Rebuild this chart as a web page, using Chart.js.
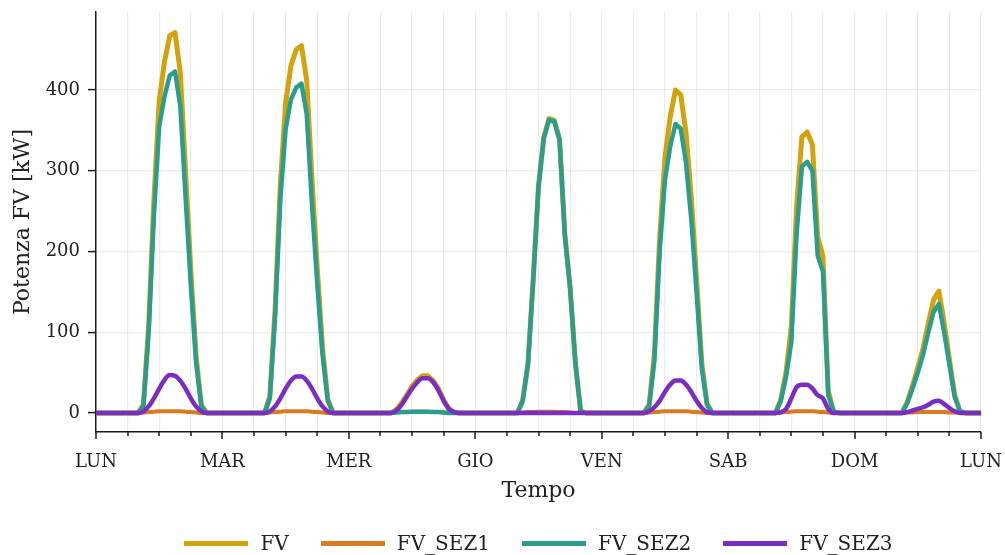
<!DOCTYPE html>
<html lang="it">
<head>
<meta charset="utf-8">
<title>Potenza FV</title>
<script src="https://cdn.jsdelivr.net/npm/chart.js@4.4.1/dist/chart.umd.min.js"></script>
<style>
  html, body { margin: 0; padding: 0; background: #fff; }
  #wrap { position: relative; width: 1005px; height: 555px; }
  #grafico { position: absolute; left: 0; top: 0; }
  #legenda {
    position: absolute; left: 96px; width: 885px; top: 530px; height: 26px;
    display: flex; justify-content: center; align-items: center;
    font-family: 'DejaVu Serif', serif; font-size: 20px; color: #222;
  }
  .voce { display: flex; align-items: center; margin: 0 16px; white-space: nowrap; }
  .voce .linea { display: inline-block; width: 64px; height: 5px; margin-right: 12px; }
</style>
</head>
<body>
<div id="wrap">
  <canvas id="grafico" width="1005" height="555"></canvas>
  <div id="legenda"></div>
</div>
<script>
// giorni della settimana sull'asse x (una tacca principale ogni 24 ore)
const giorni = ['LUN', 'MAR', 'MER', 'GIO', 'VEN', 'SAB', 'DOM', 'LUN'];
const tickY = [0, 100, 200, 300, 400];

// potenze orarie [kW], una riga per giorno (ore 0..23), ultimo punto = lunedi successivo ore 0
const FV = [
  0,0,0,0,0,0,0,0, 0,10.5,109,264.5,387,435,467,471,422,299.5,177,70.5,10, 0,0,0,
  0,0,0,0,0,0,0,0, 0,20.5,129,284.5,384,430,450,455,412,289.5,179,80.5,17, 0,0,0,
  0,0,0,0,0,0,0,0, 0,4,12,22,33,41,46,46,40,30,16,5,1, 0,0,0,
  0,0,0,0,0,0,0,0, 0,15.5,61,166,281.5,341.5,364.5,362.5,339,221,155.5,62,2, 0,0,0,
  0,0,0,0,0,0,0,0, 0,10.5,73,216.5,316,367,400,394,347,267.5,166,61.5,11, 0,0,0,
  0,0,0,0,0,0,0,0, 0,0,16.5,51,107.5,256,342,348,332,218.5,194,27.5,2, 0,0,0,
  0,0,0,0,0,0,0,0, 0,0,13.5,33.5,56,80,111,140,151,112,66.5,22.5,2, 0,0,0,
  0
];
const FV_SEZ1 = [
  0,0,0,0,0,0,0,0, 0,0.5,1,1.5,2,2,2,2,2,1.5,1,0.5,0, 0,0,0,
  0,0,0,0,0,0,0,0, 0,0.5,1,1.5,2,2,2,2,2,1.5,1,0.5,0, 0,0,0,
  0,0,0,0,0,0,0,0, 0,0.5,1,1,1.5,1.5,1.5,1.5,1,1,0.5,0,0, 0,0,0,
  0,0,0,0,0,0,0,0, 0,0.5,1,1,1.5,1.5,1.5,1.5,1,1,0.5,0,0, 0,0,0,
  0,0,0,0,0,0,0,0, 0,0.5,1,1.5,2,2,2,2,2,1.5,1,0.5,0, 0,0,0,
  0,0,0,0,0,0,0,0, 0,0,0.5,1,1.5,2,2,2,2,1.5,1,0.5,0, 0,0,0,
  0,0,0,0,0,0,0,0, 0,0,0.5,0.5,1,1,1,1,1,1,0.5,0.5,0, 0,0,0,
  0
];
const FV_SEZ2 = [
  0,0,0,0,0,0,0,0, 0,8,100,245,355,392,418,423,380,268,158,62,8, 0,0,0,
  0,0,0,0,0,0,0,0, 0,18,120,265,352,388,403,408,370,258,160,72,15, 0,0,0,
  0,0,0,0,0,0,0,0, 0,0.5,1,1,1.5,1.5,1.5,1.5,1,1,0.5,0,0, 0,0,0,
  0,0,0,0,0,0,0,0, 0,15,60,165,280,340,363,361,338,220,155,62,2, 0,0,0,
  0,0,0,0,0,0,0,0, 0,8,65,200,288,330,358,352,310,240,150,55,10, 0,0,0,
  0,0,0,0,0,0,0,0, 0,0,15,45,88,222,305,311,300,195,175,22,2, 0,0,0,
  0,0,0,0,0,0,0,0, 0,0,12,30,50,72,100,125,135,100,60,20,2, 0,0,0,
  0
];
const FV_SEZ3 = [
  0,0,0,0,0,0,0,0, 0,2,8,18,30,41,47,46,40,30,18,8,2, 0,0,0,
  0,0,0,0,0,0,0,0, 0,2,8,18,30,40,45,45,40,30,18,8,2, 0,0,0,
  0,0,0,0,0,0,0,0, 0,3,10,20,30,38,43,43,38,28,15,5,1, 0,0,0,
  0,0,0,0,0,0,0,0, 0,0,0,0,0,0,0,0,0,0,0,0,0, 0,0,0,
  0,0,0,0,0,0,0,0, 0,2,7,15,26,35,40,40,35,26,15,6,1, 0,0,0,
  0,0,0,0,0,0,0,0, 0,0,1,5,18,32,35,35,30,22,18,5,0, 0,0,0,
  0,0,0,0,0,0,0,0, 0,0,1,3,5,7,10,14,15,11,6,2,0, 0,0,0,
  0
];

const ore = FV.map((_, i) => i);
const FONT = "'DejaVu Serif', serif";
const GRIGLIA = 'rgba(0, 0, 0, 0.075)';
const ASSE = '#1a1a1a';

// tacche dell'asse x: lunghe ogni giorno, corte ogni 6 ore
const tacche = {
  id: 'tacche',
  afterDraw(chart) {
    const { ctx, chartArea, scales: { x } } = chart;
    ctx.save();
    ctx.strokeStyle = ASSE;
    ctx.lineWidth = 1.5;
    for (let h = 0; h <= 168; h += 6) {
      const px = Math.round(x.getPixelForValue(h));
      const lung = h % 24 === 0 ? 7 : 4;
      ctx.beginPath();
      ctx.moveTo(px, chartArea.bottom);
      ctx.lineTo(px, chartArea.bottom + lung);
      ctx.stroke();
    }
    ctx.restore();
  }
};

function serie(label, dati, colore, spessore, ordine, morbida) {
  return {
    label: label,
    data: dati,
    borderColor: colore,
    backgroundColor: colore,
    borderWidth: spessore,
    borderJoinStyle: 'round',
    borderCapStyle: 'round',
    pointRadius: 0,
    fill: false,
    order: ordine,
    cubicInterpolationMode: morbida ? 'monotone' : 'default',
    tension: 0
  };
}

const ctx = document.getElementById('grafico').getContext('2d');

const grafico = new Chart(ctx, {
  type: 'line',
  data: {
    labels: ore,
    datasets: [
      serie('FV', FV, '#d4a20c', 5, 3, false),
      serie('FV_SEZ1', FV_SEZ1, '#db7b1f', 4, 2, true),
      serie('FV_SEZ2', FV_SEZ2, '#2a9d8f', 4.5, 1, false),
      serie('FV_SEZ3', FV_SEZ3, '#7b2dc3', 4.5, 0, true)
    ]
  },
  options: {
    responsive: false,
    animation: false,
    devicePixelRatio: 1,
    layout: { padding: { top: 12, right: 24, bottom: 51, left: 0 } },
    plugins: {
      legend: { display: false },
      tooltip: { enabled: false }
    },
    scales: {
      x: {
        type: 'linear',
        min: 0,
        max: 168,
        afterFit: s => {
          s.height = 72;
          s.paddingLeft = 0;
          s.paddingRight = 0;
        },
        ticks: {
          stepSize: 6,
          autoSkip: false,
          maxRotation: 0,
          padding: 20,
          color: '#222',
          font: { family: FONT, size: 18 },
          callback: v => (v % 24 === 0 ? giorni[v / 24] : '')
        },
        grid: { color: GRIGLIA, lineWidth: 1.2, drawTicks: false },
        border: { display: true, color: ASSE, width: 1.5 },
        title: {
          display: true,
          text: 'Tempo',
          color: '#222',
          font: { family: FONT, size: 22 },
          padding: { top: 0, bottom: 0 }
        }
      },
      y: {
        min: -23.65,
        max: 496.65,
        afterFit: s => {
          s.width = 96;
          s.paddingTop = 0;
          s.paddingBottom = 0;
        },
        afterBuildTicks: s => { s.ticks = tickY.map(v => ({ value: v })); },
        ticks: {
          padding: 8,
          color: '#222',
          font: { family: FONT, size: 18 }
        },
        grid: { color: GRIGLIA, lineWidth: 1.2, tickColor: ASSE, tickLength: 8, tickWidth: 1.5 },
        border: { display: true, color: ASSE, width: 1.5 },
        title: {
          display: true,
          text: 'Potenza FV [kW]',
          color: '#222',
          font: { family: FONT, size: 22 },
          padding: { top: 10, bottom: 0 }
        }
      }
    }
  },
  plugins: [tacche]
});

// legenda in basso, centrata sotto l'area del grafico
const legenda = document.getElementById('legenda');
grafico.data.datasets.forEach(ds => {
  const voce = document.createElement('div');
  voce.className = 'voce';
  const linea = document.createElement('span');
  linea.className = 'linea';
  linea.style.background = ds.borderColor;
  voce.appendChild(linea);
  voce.appendChild(document.createTextNode(ds.label));
  legenda.appendChild(voce);
});
</script>
</body>
</html>
